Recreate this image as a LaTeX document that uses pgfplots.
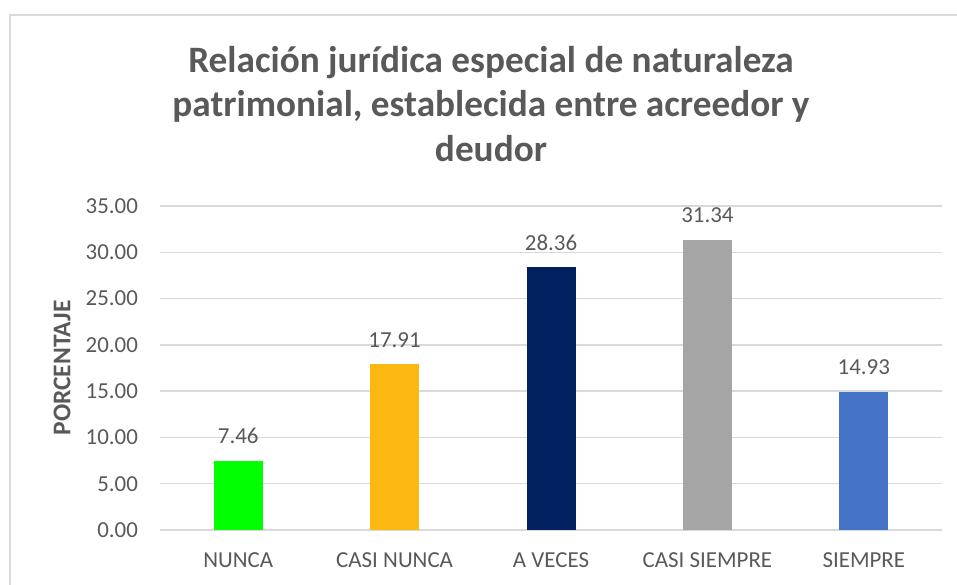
\documentclass[border=0pt]{standalone}
\usepackage{fontspec}
\setmainfont{Carlito}
\usepackage{pgfplots}
\pgfplotsset{compat=1.18}
\definecolor{txt}{HTML}{595959}
\definecolor{gridc}{HTML}{D9D9D9}
\definecolor{framec}{HTML}{D9D9D9}
\definecolor{cA}{HTML}{00FF00}
\definecolor{cB}{HTML}{FBB810}
\definecolor{cC}{HTML}{002060}
\definecolor{cD}{HTML}{A5A5A5}
\definecolor{cE}{HTML}{4472C4}
\begin{document}
\begin{tikzpicture}[x=1bp,y=1bp]
\useasboundingbox (0,0) rectangle (478.5,292);
\draw[color=framec, line width=1bp] (5,-20) -- (5,284.5) -- (500,284.5);
\node[align=center, font=\fontsize{18.7}{22.5}\selectfont\bfseries, text=txt] at (245.5,240)
  {Relación jurídica especial de naturaleza\\patrimonial, establecida entre acreedor y\\deudor};
\begin{axis}[
  at={(80bp,27bp)}, anchor=south west,
  scale only axis, width=391bp, height=162bp,
  xmin=-0.5, xmax=4.5, ymin=0, ymax=35,
  ytick={0,5,...,35}, xtick={0,1,2,3,4},
  xticklabels={NUNCA, CASI NUNCA, A VECES, CASI SIEMPRE, SIEMPRE},
  ymajorgrids, grid style={color=gridc, line width=0.75bp},
  axis line style={draw=none}, major tick length=0pt,
  /pgf/number format/assume math mode=true,
  yticklabel style={/pgf/number format/.cd, fixed, fixed zerofill, precision=2, /tikz/.cd,
    font=\fontsize{11.5}{13}\selectfont, text=txt, xshift=-7.5bp},
  xticklabel style={font=\fontsize{11.5}{13}\selectfont, text=txt, yshift=-8bp},
  every axis y label/.style={at={(axis description cs:-0.1253,0.5)}, rotate=90, anchor=center,
    font=\fontsize{12.8}{14}\selectfont\bfseries, text=txt},
  ylabel={PORCENTAJE},
  ybar, bar width=24.5bp, bar shift=0pt,
  nodes near coords,
  nodes near coords style={/pgf/number format/.cd, fixed, fixed zerofill, precision=2, /tikz/.cd,
    font=\fontsize{11.5}{13}\selectfont, text=txt, anchor=base, yshift=8.5bp},
  clip=false,
]
\addplot[fill=cA, draw=none] coordinates {(0,7.46)};
\addplot[fill=cB, draw=none] coordinates {(1,17.91)};
\addplot[fill=cC, draw=none] coordinates {(2,28.36)};
\addplot[fill=cD, draw=none] coordinates {(3,31.34)};
\addplot[fill=cE, draw=none] coordinates {(4,14.93)};
\end{axis}
\end{tikzpicture}
\end{document}
